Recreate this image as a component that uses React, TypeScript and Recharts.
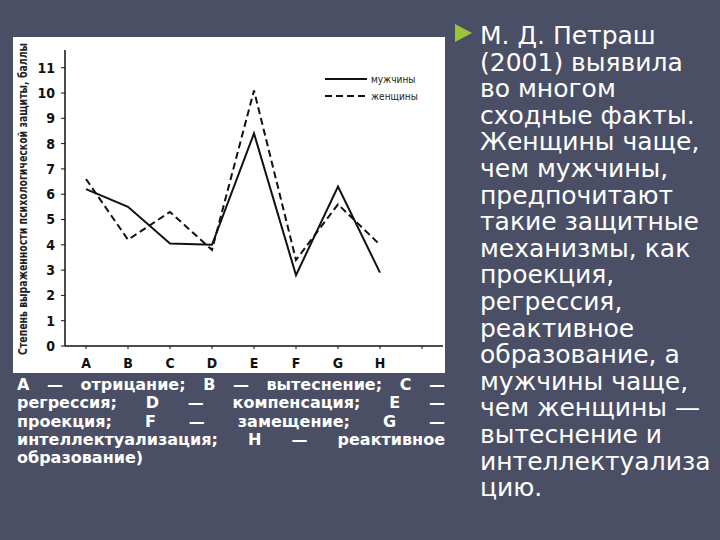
import React from 'react';
import { LineChart, Line, XAxis, YAxis, Legend } from 'recharts';

// categories (9th slot is empty in the original figure)
const categories = ['A', 'B', 'C', 'D', 'E', 'F', 'G', 'H', ''];
const men = [6.2, 5.5, 4.05, 4.0, 8.4, 2.8, 6.3, 2.9, null];
const women = [6.6, 4.2, 5.3, 3.8, 10.1, 3.4, 5.6, 4.0, null];
const yTicks = [0, 1, 2, 3, 4, 5, 6, 7, 8, 9, 10, 11];

const seriesNames = { men: 'мужчины', women: 'женщины' };
const yTitle = 'Степень выраженности психологической защиты, баллы';

const captionLines = [
    'A — отрицание; B — вытеснение; C —',
    'регрессия; D — компенсация; E —',
    'проекция; F — замещение; G —',
    'интеллектуализация; H — реактивное',
    'образование)',
];

const bodyLines = [
    'М. Д. Петраш',
    '(2001) выявила',
    'во многом',
    'сходные факты.',
    'Женщины чаще,',
    'чем мужчины,',
    'предпочитают',
    'такие защитные',
    'механизмы, как',
    'проекция,',
    'регрессия,',
    'реактивное',
    'образование, а',
    'мужчины чаще,',
    'чем женщины —',
    'вытеснение и',
    'интеллектуализа',
    'цию.',
];

const narrow = "'Liberation Sans Narrow', 'DejaVu Sans Condensed', sans-serif";

const chartData = categories.map((name, i) => ({
    name,
    men: men[i],
    women: women[i],
}));

function LegendBox() {
    return (
        <svg width={110} height={34} style={{ overflow: 'visible' }}>
            <line x1={0} y1={6} x2={42} y2={6} stroke="#111" strokeWidth={2} />
            <text x={46} y={9.5} fontSize={10} fontFamily={narrow} fill="#222">{seriesNames.men}</text>
            <line x1={0} y1={23} x2={42} y2={23} stroke="#111" strokeWidth={2} strokeDasharray="7 4" />
            <text x={46} y={26.5} fontSize={10} fontFamily={narrow} fill="#222">{seriesNames.women}</text>
        </svg>
    );
}

export default function App() {
    return (
        <div style={{ position: 'absolute', left: 0, top: 0, width: 720, height: 540, background: '#4b4f66', overflow: 'hidden' }}>
            {/* chart panel */}
            <div style={{ position: 'absolute', left: 13, top: 37, width: 432, height: 336, background: '#fff' }}>
                <LineChart width={432} height={336} data={chartData} margin={{ top: 13, right: 2, bottom: 0, left: 0 }}>
                    <XAxis
                        dataKey="name"
                        height={27}
                        padding={{ left: 21, right: 21 }}
                        axisLine={{ stroke: '#111', strokeWidth: 1.5 }}
                        tickLine={{ stroke: '#111' }}
                        tickSize={3}
                        tickMargin={9}
                        interval={0}
                        tick={{ fill: '#111', fontSize: 14, fontFamily: narrow, fontWeight: 700 }}
                    />
                    <YAxis
                        width={52}
                        domain={[0, 11.7]}
                        ticks={yTicks}
                        allowDataOverflow
                        axisLine={{ stroke: '#111', strokeWidth: 1.5 }}
                        tickLine={{ stroke: '#111' }}
                        tickSize={4}
                        tickMargin={6}
                        tick={{ fill: '#111', fontSize: 14, fontFamily: narrow, fontWeight: 700 }}
                        label={() => (
                            <text
                                x={9}
                                y={162}
                                transform="rotate(-90 9 162)"
                                textAnchor="middle"
                                dominantBaseline="central"
                                fontSize={13}
                                fontFamily={narrow}
                                fontWeight={700}
                                fill="#222"
                                textLength={312}
                                lengthAdjust="spacingAndGlyphs"
                            >
                                {yTitle}
                            </text>
                        )}
                    />
                    <Legend
                        layout="horizontal"
                        verticalAlign="middle"
                        align="center"
                        wrapperStyle={{ left: 312, top: 36, width: 110, height: 34 }}
                        content={() => <LegendBox />}
                    />
                    <Line
                        dataKey="men"
                        name={seriesNames.men}
                        type="linear"
                        stroke="#111"
                        strokeWidth={2}
                        dot={false}
                        isAnimationActive={false}
                    />
                    <Line
                        dataKey="women"
                        name={seriesNames.women}
                        type="linear"
                        stroke="#111"
                        strokeWidth={2}
                        strokeDasharray="7 4"
                        dot={false}
                        isAnimationActive={false}
                    />
                </LineChart>
            </div>

            {/* caption under the chart */}
            <div
                style={{
                    position: 'absolute',
                    left: 17,
                    top: 376,
                    width: 428,
                    color: '#fff',
                    fontFamily: "'DejaVu Sans', sans-serif",
                    fontWeight: 700,
                    fontSize: 16,
                    lineHeight: '18.3px',
                }}
            >
                {captionLines.map((line, i) => (
                    <div key={i} style={{ textAlign: 'justify', textAlignLast: i < captionLines.length - 1 ? 'justify' : 'left', whiteSpace: 'nowrap' }}>
                        {line}
                    </div>
                ))}
            </div>

            {/* bullet */}
            <svg style={{ position: 'absolute', left: 455, top: 24 }} width={18} height={19}>
                <polygon points="0,0 17,9 0,18" fill="#9cc43a" />
            </svg>

            {/* right-hand text */}
            <div
                style={{
                    position: 'absolute',
                    left: 480,
                    top: 23,
                    width: 240,
                    color: '#fff',
                    fontFamily: "'DejaVu Sans', sans-serif",
                    fontSize: 25,
                    lineHeight: '26.6px',
                    whiteSpace: 'nowrap',
                }}
            >
                {bodyLines.map((line, i) => (
                    <div key={i}>{line}</div>
                ))}
            </div>
        </div>
    );
}
